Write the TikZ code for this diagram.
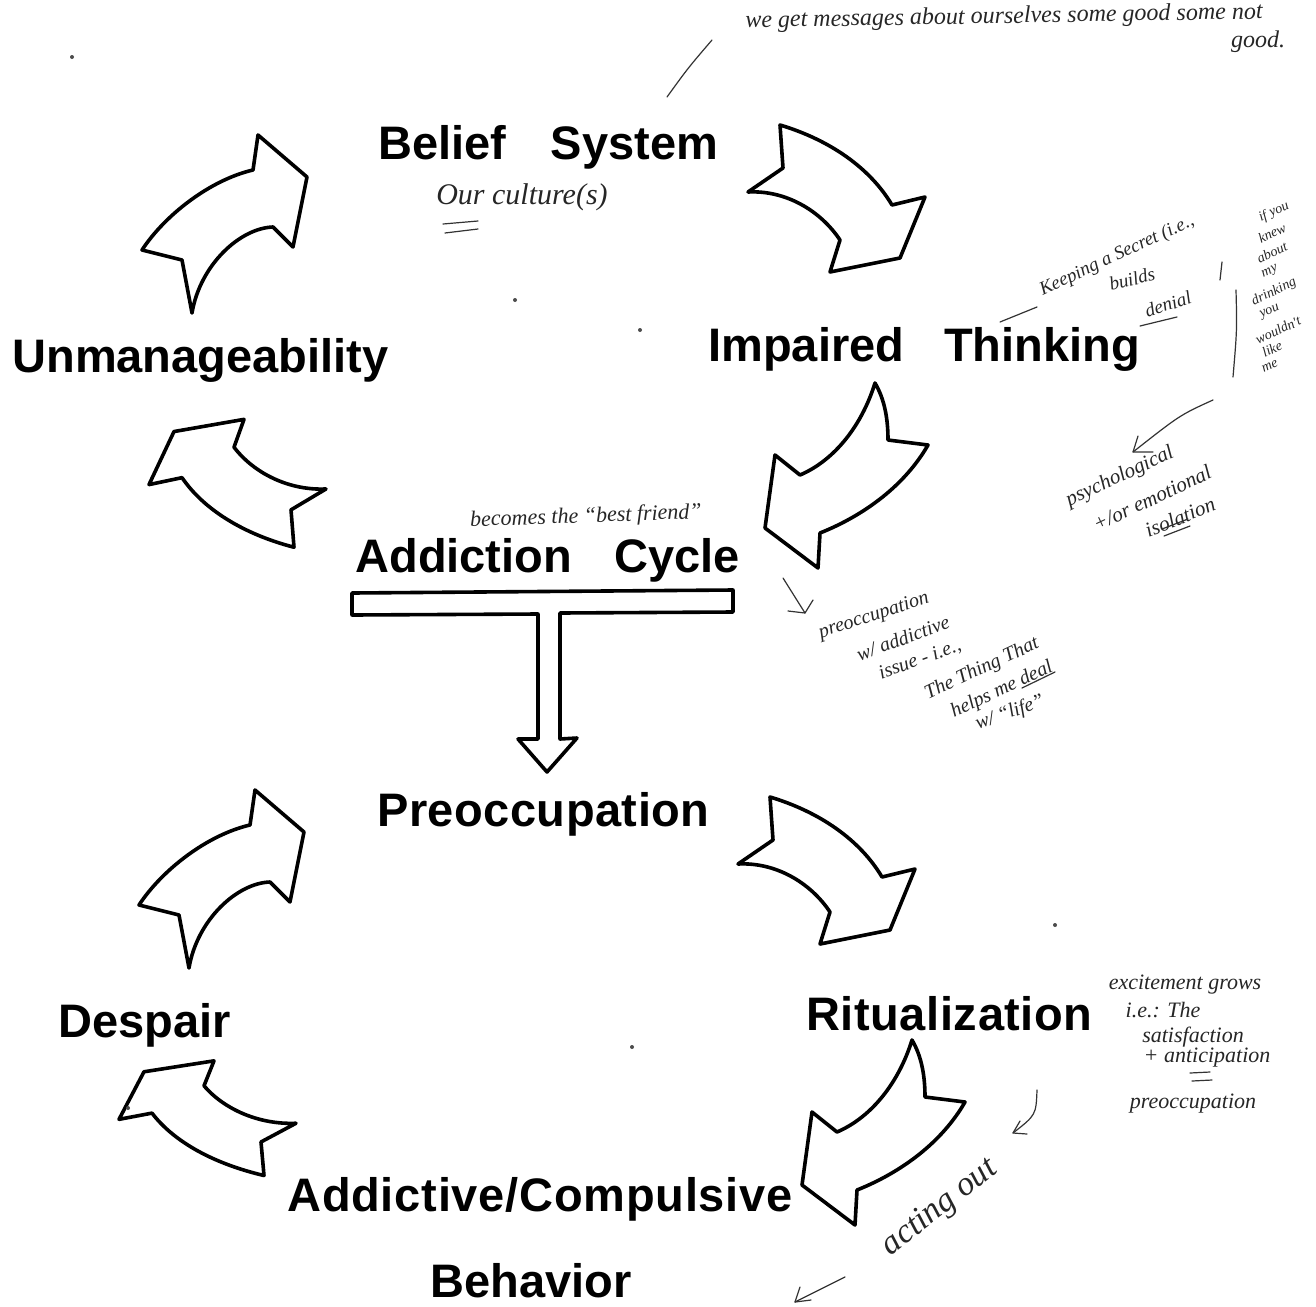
\documentclass[tikz,border=0pt]{standalone}
\usepackage{fontspec}
\setmainfont{Liberation Sans}
\newfontfamily\hand{Liberation Serif}
\begin{document}
\begin{tikzpicture}[x=0.5pt,y=-0.5pt]
\tikzset{
  blk/.style={draw=black, line width=1.8pt, fill=white, line join=round},
  lab/.style={font=\fontsize{23.5}{28}\selectfont\bfseries, inner sep=0pt, anchor=base west},
  hw/.style={font=\hand\itshape\fontsize{11}{13}\selectfont, text=black!85, inner sep=0pt},
  hwl/.style={draw=black!80, line width=0.6pt, line cap=round, line join=round},
  arrA/.pic={\path[blk] (142,250) .. controls (165,215) and (210,180) .. (253,170) -- (258,135) -- (307,177) -- (293,247) -- (273,227) .. controls (240,228) and (200,265) .. (192,313) -- (182,260) -- cycle;},
  arrB/.pic={\path[blk] (748,192) -- (783,168) -- (780,125) .. controls (830,140) and (870,168) .. (892,205) -- (925,197) -- (900,258) -- (830,272) -- (840,240) .. controls (820,210) and (785,190) .. (748,192) -- cycle;},
  arrC/.pic={\path[blk] (875,383) .. controls (885,400) and (888,420) .. (888,440) -- (928,445) .. controls (905,485) and (865,515) .. (820,533) -- (818,568) -- (765,528) -- (775,455) -- (800,475) .. controls (835,460) and (862,425) .. (875,383) -- cycle;}
}
\useasboundingbox[fill=white] (0,0) rectangle (1316,1306);

% ---- block arrows, upper cycle
\pic {arrA};
\pic {arrB};
\pic {arrC};
\begin{scope}[shift={(1074,656)}, xscale=-1, yscale=-0.87]\pic[transform shape] {arrB};\end{scope}
% ---- block arrows, lower cycle
\begin{scope}[shift={(-3,655)}]\pic {arrA};\end{scope}
\begin{scope}[shift={(-10,672)}]\pic {arrB};\end{scope}
\begin{scope}[shift={(37,657)}]\pic {arrC};\end{scope}
\begin{scope}[shift={(1044,1273)}, xscale=-1, yscale=-0.78]\pic[transform shape] {arrB};\end{scope}

% ---- T arrow
\path[blk] (352,593) -- (733,590) -- (733,612) -- (560,613) -- (560,739) -- (577,738) -- (547,772) -- (518,739) -- (538,739) -- (538,614) -- (352,615) -- cycle;

% ---- labels
\node[lab] (belief) at (378,159) {Belief\hspace{0.95em}System};
\node[lab] (impaired) at (708,361) {Impaired\hspace{0.85em}Thinking};
\node[lab] (unman) at (12,372) {Unmanageability};
\node[lab] (addcycle) at (355,572) {Addiction\hspace{0.9em}Cycle};
\node[lab] (preocc) at (377,826) {\addfontfeature{LetterSpace=1}Preoccupation};
\node[lab] (ritual) at (806,1030) {\addfontfeature{LetterSpace=1.2}Ritualization};
\node[lab] (despair) at (58,1037) {Despair};
\node[lab] (behav1) at (287,1211) {\addfontfeature{LetterSpace=1.6}Addictive/Compulsive};
\node[lab] (behav2) at (430,1297) {Behavior};

% ---- handwritten notes
\node[hw, font=\hand\itshape\fontsize{12}{14}\selectfont, anchor=west, rotate=1] (msg) at (745,22) {we get messages about ourselves some good some not};
\node[hw, font=\hand\itshape\fontsize{12}{14}\selectfont] (good) at (1258,42) {good.};
\coordinate (m1) at (667,97); \coordinate (m2) at (712,40);
\draw[hwl] (m1) .. controls (688,68) .. (m2);

\node[hw, font=\hand\itshape\fontsize{15}{17}\selectfont] (culture) at (522,197) {Our culture(s)};
\coordinate (u1) at (443,224); \coordinate (u2) at (478,221);
\coordinate (u3) at (445,233); \coordinate (u4) at (478,229);
\draw[hwl] (u1) -- (u2); \draw[hwl] (u3) -- (u4);

\node[hw, font=\hand\itshape\fontsize{9.5}{11}\selectfont, rotate=25] (secret) at (1117,256) {Keeping a Secret (i.e.,};
\node[hw, font=\hand\itshape\fontsize{9.5}{11}\selectfont, rotate=14] (builds) at (1132,279) {builds};
\node[hw, font=\hand\itshape\fontsize{9.5}{11}\selectfont, rotate=18] (denial) at (1168,304) {denial};
\coordinate (k1) at (1000,322); \coordinate (k2) at (1037,307);
\draw[hwl] (k1) -- (k2);
\coordinate (d1) at (1140,326); \coordinate (d2) at (1177,317);
\draw[hwl] (d1) -- (d2);
\coordinate (v1) at (1236,290); \coordinate (v2) at (1233,377);
\draw[hwl] (v1) .. controls (1237,330) .. (v2);
\coordinate (v3) at (1222,262); \coordinate (v4) at (1220,280);
\draw[hwl] (v3) -- (v4);
\node[hw, font=\hand\itshape\fontsize{7}{8}\selectfont, rotate=25] (c1) at (1274,212) {if you};
\node[hw, font=\hand\itshape\fontsize{7}{8}\selectfont, rotate=25] (c2) at (1272,233) {knew};
\node[hw, font=\hand\itshape\fontsize{7}{8}\selectfont, rotate=25] (c3) at (1272,252) {about};
\node[hw, font=\hand\itshape\fontsize{7}{8}\selectfont, rotate=25] (c4) at (1270,272) {my};
\node[hw, font=\hand\itshape\fontsize{7}{8}\selectfont, rotate=25] (c5) at (1274,292) {drinking};
\node[hw, font=\hand\itshape\fontsize{7}{8}\selectfont, rotate=25] (c6) at (1270,312) {you};
\node[hw, font=\hand\itshape\fontsize{7}{8}\selectfont, rotate=25] (c7) at (1278,330) {wouldn't};
\node[hw, font=\hand\itshape\fontsize{7}{8}\selectfont, rotate=25] (c8) at (1272,349) {like};
\node[hw, font=\hand\itshape\fontsize{7}{8}\selectfont, rotate=25] (c9) at (1270,366) {me};

\coordinate (p1) at (1213,400); \coordinate (p2) at (1133,452);
\draw[hwl] (p1) .. controls (1180,415) .. (p2);
\coordinate (p3) at (1138,436); \coordinate (p4) at (1153,452);
\draw[hwl] (p3) -- (p2) -- (p4);
\node[hw, font=\hand\itshape\fontsize{10.5}{13}\selectfont, rotate=25] (psych) at (1120,477) {psychological};
\node[hw, font=\hand\itshape\fontsize{10.5}{13}\selectfont, rotate=25] (emot) at (1152,498) {+/or emotional};
\node[hw, font=\hand\itshape\fontsize{10.5}{13}\selectfont, rotate=22] (isol) at (1180,517) {isolation};
\coordinate (i1) at (1162,529); \coordinate (i2) at (1188,519);
\coordinate (i3) at (1164,536); \coordinate (i4) at (1190,526);
\draw[hwl] (i1) -- (i2); \draw[hwl] (i3) -- (i4);

\node[hw, font=\hand\itshape\fontsize{11}{13}\selectfont, rotate=2] (best) at (586,517) {becomes the “best friend”};

\coordinate (q1) at (783,578); \coordinate (q2) at (805,613);
\draw[hwl] (q1) -- (q2);
\coordinate (q3) at (788,611); \coordinate (q4) at (813,600);
\draw[hwl] (q3) -- (q2) -- (q4);
\node[hw, font=\hand\itshape\fontsize{10}{12}\selectfont, rotate=18] (pre1) at (874,616) {preoccupation};
\node[hw, font=\hand\itshape\fontsize{10}{12}\selectfont, rotate=20] (pre2) at (903,638) {w/ addictive};
\node[hw, font=\hand\itshape\fontsize{10}{12}\selectfont, rotate=20] (pre3) at (920,660) {issue - i.e.,};
\node[hw, font=\hand\itshape\fontsize{10}{12}\selectfont, rotate=25] (pre4) at (982,669) {The Thing That};
\node[hw, font=\hand\itshape\fontsize{10}{12}\selectfont, rotate=25] (pre5) at (1002,690) {helps me deal};
\node[hw, font=\hand\itshape\fontsize{10}{12}\selectfont, rotate=20] (pre6) at (1010,713) {w/ “life”};
\coordinate (l1) at (1022,688); \coordinate (l2) at (1055,672);
\draw[hwl] (l1) -- (l2);

\node[hw, font=\hand\itshape\fontsize{11}{13}\selectfont] (ex1) at (1185,985) {excitement grows};
\node[hw, font=\hand\itshape\fontsize{11}{13}\selectfont] (ex2) at (1163,1010) {i.e.: The};
\node[hw, font=\hand\itshape\fontsize{11}{13}\selectfont] (ex3) at (1193,1037) {satisfaction};
\node[hw, font=\hand\itshape\fontsize{11}{13}\selectfont] (ex4) at (1207,1058) {+ anticipation};
\node[hw, font=\hand\itshape\fontsize{11}{13}\selectfont] (ex5) at (1193,1104) {preoccupation};
\coordinate (e1) at (1190,1073); \coordinate (e2) at (1210,1072);
\coordinate (e3) at (1192,1081); \coordinate (e4) at (1212,1080);
\draw[hwl] (e1) -- (e2); \draw[hwl] (e3) -- (e4);

\coordinate (a1) at (1037,1090); \coordinate (a2) at (1013,1133);
\draw[hwl] (a1) .. controls (1036,1115) .. (a2);
\coordinate (a3) at (1020,1121); \coordinate (a4) at (1027,1134);
\draw[hwl] (a3) -- (a2) -- (a4);
\node[hw, font=\hand\itshape\fontsize{17}{19}\selectfont, rotate=38] (acting) at (940,1208) {acting out};
\coordinate (b1) at (845,1277); \coordinate (b2) at (795,1302);
\draw[hwl] (b1) -- (b2);
\coordinate (b3) at (800,1287); \coordinate (b4) at (811,1300);
\draw[hwl] (b3) -- (b2) -- (b4);

% ---- specks
\foreach \p in {(72,57),(515,300),(640,330),(632,1047),(1055,925),(128,1108)}
  \fill[black!70] \p circle[radius=2];
\end{tikzpicture}
\end{document}
